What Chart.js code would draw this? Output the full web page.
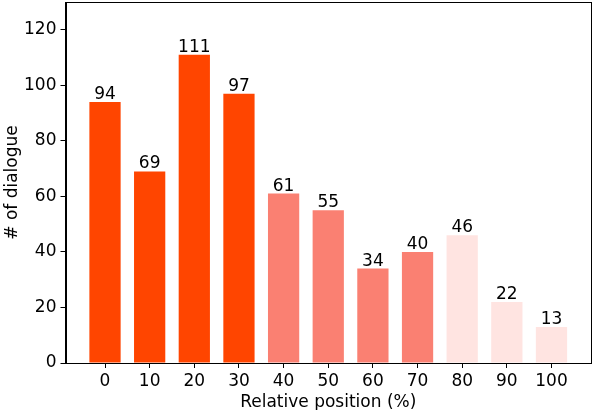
<!DOCTYPE html>
<html>
<head>
<meta charset="utf-8">
<script src="https://cdn.jsdelivr.net/npm/chart.js@4/dist/chart.umd.min.js"></script>
<style>
  html, body { margin: 0; padding: 0; background: #fff; }
  #wrap { width: 592px; height: 410px; }
</style>
</head>
<body>
<div id="wrap"><canvas id="dialogueChart"></canvas></div>
<script>
// Data
const positions = [0, 10, 20, 30, 40, 50, 60, 70, 80, 90, 100];
const dialogueCounts = [94, 69, 111, 97, 61, 55, 34, 40, 46, 22, 13];
const yTicks = [0, 20, 40, 60, 80, 100, 120];

// three colour groups: 0-30, 40-70, 80-100
const barColors = positions.map(p => p < 40 ? '#ff4500' : (p < 80 ? '#fa8072' : '#ffe4e1'));

const FONT = 'DejaVu Sans';
const FONT_SIZE = 17;

// draw the count above every bar
const valueLabels = {
    id: 'valueLabels',
    afterDatasetsDraw(chart) {
        const ctx = chart.ctx;
        const meta = chart.getDatasetMeta(0);
        ctx.save();
        ctx.font = FONT_SIZE + 'px "' + FONT + '"';
        ctx.fillStyle = '#000';
        ctx.textAlign = 'center';
        ctx.textBaseline = 'alphabetic';
        meta.data.forEach((bar, i) => {
            ctx.fillText(String(dialogueCounts[i]), bar.x, bar.y - 3);
        });
        ctx.restore();
    }
};

// closed box around the plot area like matplotlib spines
const frameBox = {
    id: 'frameBox',
    afterDraw(chart) {
        const a = chart.chartArea;
        const ctx = chart.ctx;
        ctx.save();
        ctx.strokeStyle = '#000';
        ctx.lineWidth = 1;
        ctx.strokeRect(Math.round(a.left) + 0.5, Math.round(a.top) + 0.5,
            Math.round(a.right - a.left) - 1, Math.round(a.bottom - a.top));
        ctx.restore();
    }
};

document.addEventListener('DOMContentLoaded', function() {
    const ctx = document.getElementById('dialogueChart').getContext('2d');
    new Chart(ctx, {
        type: 'bar',
        data: {
            datasets: [{
                data: positions.map((p, i) => ({ x: p, y: dialogueCounts[i] })),
                backgroundColor: barColors,
                borderWidth: 0,
                categoryPercentage: 0.7,
                barPercentage: 1.0
            }]
        },
        options: {
            responsive: true,
            maintainAspectRatio: false,
            animation: false,
            layout: { padding: { top: 2, right: 1, left: 0, bottom: 0 } },
            scales: {
                x: {
                    type: 'linear',
                    offset: false,
                    min: -8.85,
                    max: 108.85,
                    afterBuildTicks: axis => { axis.ticks = positions.map(v => ({ value: v })); },
                    afterFit: scale => {
                        scale.height = 47;
                        scale.paddingLeft = 0;
                        scale.paddingRight = 0;
                    },
                    grid: { display: true, offset: false, drawOnChartArea: false, drawTicks: true, tickLength: 5, color: '#000' },
                    border: { display: true, color: '#000' },
                    ticks: { color: '#000', padding: 3, maxRotation: 0, font: { family: FONT, size: FONT_SIZE } },
                    title: {
                        display: true,
                        text: 'Relative position (%)',
                        color: '#000',
                        padding: { top: -3, bottom: -3 },
                        font: { family: FONT, size: FONT_SIZE }
                    }
                },
                y: {
                    min: 0,
                    max: 130,
                    afterBuildTicks: axis => { axis.ticks = yTicks.map(v => ({ value: v })); },
                    afterFit: scale => {
                        scale.width = 65.5;
                        scale.paddingTop = 0;
                        scale.paddingBottom = 0;
                    },
                    grid: { display: true, drawOnChartArea: false, drawTicks: true, tickLength: 5, color: '#000' },
                    border: { display: true, color: '#000' },
                    ticks: { color: '#000', padding: 4, font: { family: FONT, size: FONT_SIZE } },
                    title: {
                        display: true,
                        text: '# of dialogue',
                        color: '#000',
                        padding: { top: 2, bottom: 0 },
                        font: { family: FONT, size: FONT_SIZE }
                    }
                }
            },
            plugins: {
                legend: { display: false },
                tooltip: { enabled: false }
            }
        },
        plugins: [valueLabels, frameBox]
    });
});
</script>
</body>
</html>
